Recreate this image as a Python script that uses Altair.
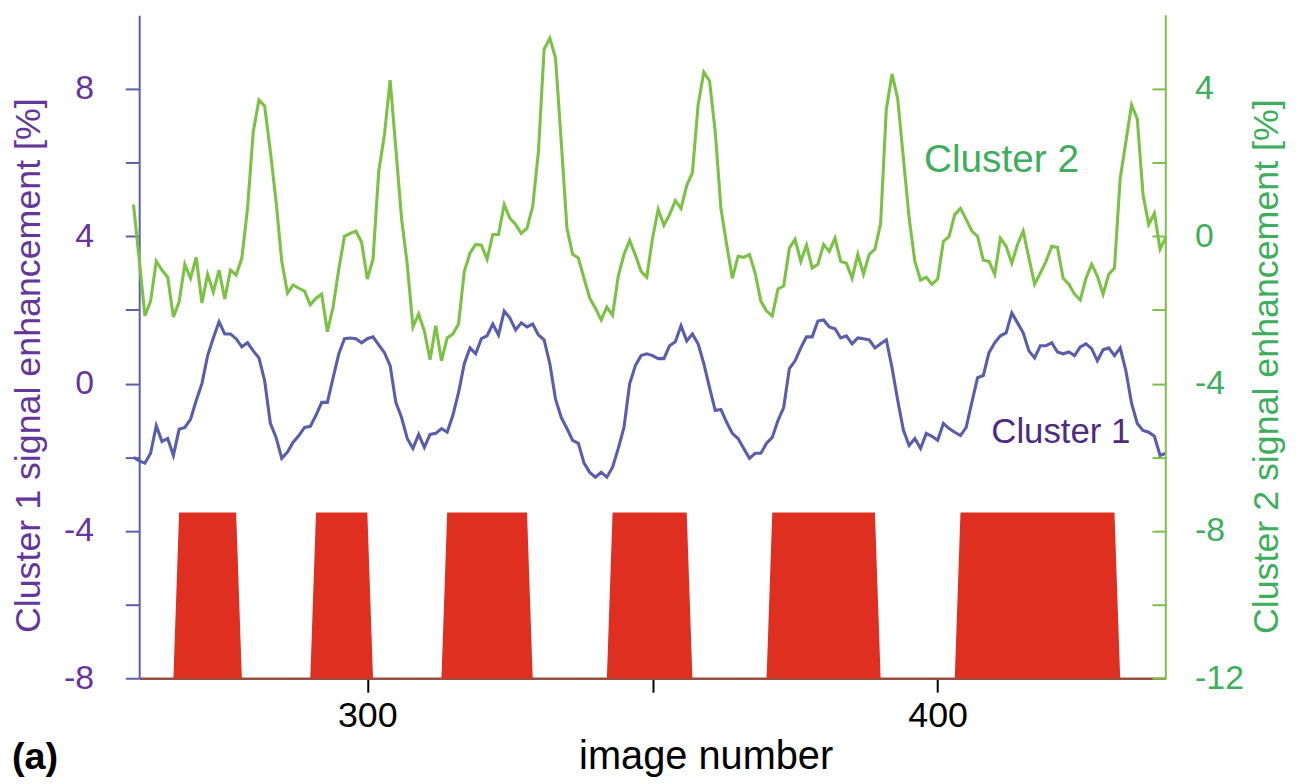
import altair as alt
import pandas as pd

# ---------------- data ----------------
image_number = list(range(259, 441))

cluster1 = [
    -2.00, -2.10, -2.16, -1.89, -1.14, -1.57, -1.49, -1.95, -1.24, -1.19,
    -0.97, -0.46, 0.00, 0.76, 1.24, 1.68, 1.35, 1.35, 1.22, 1.00,
    1.11, 0.89, 0.70, 0.08, -1.08, -1.46, -2.03, -1.86, -1.59, -1.41,
    -1.19, -1.16, -0.86, -0.51, -0.51, 0.16, 0.81, 1.22, 1.24, 1.22,
    1.11, 1.22, 1.27, 1.05, 0.84, 0.49, -0.51, -0.92, -1.49, -1.76,
    -1.38, -1.73, -1.38, -1.35, -1.22, -1.32, -0.86, -0.24, 0.54, 0.97,
    0.81, 1.22, 1.30, 1.62, 1.32, 1.97, 1.78, 1.46, 1.65, 1.54,
    1.62, 1.32, 1.19, 0.54, -0.42, -0.92, -1.22, -1.54, -1.62, -2.16,
    -2.41, -2.54, -2.41, -2.54, -2.27, -1.76, -1.19, 0.00, 0.49, 0.76,
    0.81, 0.76, 0.68, 0.68, 1.03, 1.14, 1.57, 1.16, 1.35, 1.08,
    0.54, -0.11, -0.73, -0.70, -1.05, -1.35, -1.49, -1.76, -2.03, -1.89,
    -1.89, -1.62, -1.46, -1.00, -0.65, 0.41, 0.62, 0.97, 1.27, 1.27,
    1.70, 1.73, 1.54, 1.49, 1.24, 1.30, 1.08, 1.24, 1.22, 1.19,
    0.97, 1.08, 1.19, 0.43, -0.46, -1.27, -1.68, -1.49, -1.76, -1.35,
    -1.43, -1.54, -1.08, -1.22, -1.32, -1.41, -1.19, -0.50, 0.16, 0.22,
    0.84, 1.11, 1.30, 1.38, 1.92, 1.65, 1.38, 0.89, 0.70, 1.03,
    1.03, 1.11, 0.86, 0.81, 0.86, 0.76, 1.00, 1.08, 0.95, 0.62,
    0.92, 0.97, 0.76, 0.97, 0.35, -0.54, -1.08, -1.27, -1.32, -1.43,
    -1.95, -1.89,
]

cluster2 = [
    0.86, -0.62, -2.16, -1.76, -0.68, -0.92, -1.11, -2.19, -1.78, -0.76,
    -1.14, -0.57, -1.81, -1.03, -1.51, -0.92, -1.70, -0.92, -1.05, -0.59,
    0.76, 2.84, 3.70, 3.54, 2.30, 0.95, -0.68, -1.54, -1.32, -1.41,
    -1.49, -1.86, -1.68, -1.57, -2.59, -1.92, -0.89, 0.00, 0.08, 0.14,
    -0.16, -1.16, -0.62, 1.76, 2.76, 4.24, 2.38, 0.49, -0.76, -2.46,
    -2.11, -2.57, -3.35, -2.43, -3.38, -2.76, -2.65, -2.38, -0.95, -0.46,
    -0.22, -0.24, -0.62, 0.05, 0.05, 0.86, 0.49, 0.32, 0.08, 0.22,
    0.81, 2.30, 5.08, 5.38, 4.84, 2.57, 0.22, -0.49, -0.59, -1.14,
    -1.68, -1.95, -2.27, -1.92, -2.14, -1.08, -0.49, -0.11, -0.51, -0.95,
    -1.11, -0.05, 0.73, 0.30, 0.59, 0.97, 0.76, 1.38, 1.73, 3.57,
    4.46, 4.22, 2.84, 0.76, -0.22, -1.14, -0.54, -0.57, -0.49, -1.00,
    -1.76, -2.03, -2.16, -1.43, -1.35, -0.32, -0.08, -0.68, -0.24, -0.86,
    -0.76, -0.22, -0.41, -0.05, -0.68, -0.73, -1.14, -0.49, -1.03, -0.49,
    -0.35, 0.35, 3.46, 4.41, 3.73, 2.11, 0.49, -0.68, -1.19, -1.11,
    -1.30, -1.16, -0.14, 0.00, 0.59, 0.76, 0.46, 0.14, 0.00, -0.65,
    -0.68, -1.03, -0.05, -0.27, -0.73, -0.22, 0.14, -0.59, -1.30, -1.00,
    -0.68, -0.27, -0.30, -1.14, -1.30, -1.57, -1.73, -1.14, -0.76, -1.08,
    -1.57, -1.03, -0.86, 1.57, 2.57, 3.57, 3.19, 1.14, 0.32, 0.62,
    -0.35, -0.03,
]

# stimulus blocks (image numbers where the block is fully "on")
stim_on = [267, 291, 314, 343, 371, 404]
stim_off = [277, 300, 328, 356, 389, 431]
stim_low = -8.0
stim_high = -3.5
stim_range = [260, 440]

x_ticks = [300, 350, 400]
left_ticks = [-8, -6, -4, -2, 0, 2, 4, 6, 8]
right_ticks = [-12, -10, -8, -6, -4, -2, 0, 2, 4]
left_domain = [-8, 10]
right_domain = [-12, 6]
x_domain = [260, 440]

label1 = ["Cluster 1"]
label1_pos = [409.4, -1.32]
label2 = ["Cluster 2"]
label2_pos = [397.6, 2.08]

assert len(cluster1) == len(image_number) == len(cluster2)

# ---------------- styling ----------------
W, H = 1033, 667
FONT = "Liberation Sans"
BLUE = "#5A5DAB"
PURPLE = "#64369A"
PURPLE_DARK = "#4B2B84"
GREEN = "#7BC143"
GREEN_TXT = "#3DAE5C"
RED = "#DE2F20"
BROWN = "#96503F"

df1 = pd.DataFrame({"n": image_number, "v": cluster1})
df2 = pd.DataFrame({"n": image_number, "v": cluster2})
stim_n = list(range(stim_range[0], stim_range[1] + 1))
stim_v = [stim_high if any(a <= n <= b for a, b in zip(stim_on, stim_off)) else stim_low
          for n in stim_n]
dfs = pd.DataFrame({"n": stim_n, "v": stim_v})

x_enc = alt.X(
    "n:Q",
    scale=alt.Scale(domain=x_domain, nice=False, zero=False),
    axis=alt.Axis(
        values=x_ticks,
        labelExpr="datum.value == 350 ? '' : '' + datum.value",
        grid=False,
        domainColor=BROWN, domainWidth=2.5,
        tickColor="black", tickWidth=2, tickSize=14,
        labelColor="black", labelFontSize=36, labelFont=FONT, labelPadding=7,
        labelOverlap=False,
        title="image number", titleColor="black", titleFontSize=40,
        titleFontWeight="normal", titleFont=FONT,
        titleX=570, titleY=91, titleBaseline="alphabetic", titleAlign="center",
    ),
)

left_axis = alt.Axis(
    orient="left",
    values=left_ticks,
    labelExpr="datum.value % 4 == 0 ? '' + datum.value : ''",
    grid=False,
    domainColor=BLUE, domainWidth=2,
    tickColor=BLUE, tickWidth=2, tickSize=14,
    labelColor=PURPLE, labelFontSize=34, labelFont=FONT, labelPadding=32,
    labelOverlap=False,
    title="Cluster 1 signal enhancement [%]", titleColor=PURPLE, titleFontSize=36,
    titleFontWeight="normal", titleFont=FONT,
    titleAngle=270, titleBaseline="bottom", titleAlign="center",
    titleX=-92, titleY=352,
)

right_axis = alt.Axis(
    orient="right",
    values=right_ticks,
    labelExpr="datum.value % 4 == 0 ? '' + datum.value : ''",
    grid=False,
    domain=False, offset=-14,
    tickColor=GREEN, tickWidth=2, tickSize=14,
    labelColor=GREEN_TXT, labelFontSize=34, labelFont=FONT, labelPadding=29,
    labelAlign="left", labelOverlap=False,
    title="Cluster 2 signal enhancement [%]", titleColor=GREEN_TXT, titleFontSize=36,
    titleFontWeight="normal", titleFont=FONT,
    titleAngle=270, titleBaseline="bottom", titleAlign="center",
    titleX=134, titleY=353,
)

y_left = alt.Y("v:Q", scale=alt.Scale(domain=left_domain, nice=False, zero=False), axis=left_axis)
y_right = alt.Y("v:Q", scale=alt.Scale(domain=right_domain, nice=False, zero=False), axis=right_axis)

stim_area = alt.Chart(dfs).mark_area(color=RED, opacity=1).encode(
    x=x_enc, y=y_left, y2=alt.datum(stim_low)
)
line1 = alt.Chart(df1).mark_line(color=BLUE, strokeWidth=3.1, clip=False).encode(x=x_enc, y=y_left)
text1 = alt.Chart(pd.DataFrame({"n": [label1_pos[0]], "v": [label1_pos[1]], "t": label1})).mark_text(
    align="left", baseline="middle", fontSize=35, font=FONT, color=PURPLE_DARK
).encode(x=x_enc, y=y_left, text="t:N")
panel_tag = alt.Chart(pd.DataFrame({"t": ["(a)"]})).mark_text(
    align="left", baseline="alphabetic", fontSize=38, font=FONT, fontWeight="bold", color="black"
).encode(x=alt.value(-128), y=alt.value(758), text="t:N")

line2 = alt.Chart(df2).mark_line(color=GREEN, strokeWidth=3.1, clip=False).encode(x=x_enc, y=y_right)
text2 = alt.Chart(pd.DataFrame({"n": [label2_pos[0]], "v": [label2_pos[1]], "t": label2})).mark_text(
    align="left", baseline="middle", fontSize=39, font=FONT, color=GREEN_TXT
).encode(x=x_enc, y=y_right, text="t:N")
right_line = alt.Chart(pd.DataFrame({"a": [0]})).mark_rule(color=GREEN, strokeWidth=2).encode(
    x=alt.value(W), y=alt.value(0), y2=alt.value(H)
)

left_group = alt.layer(stim_area, line1, text1, panel_tag)
right_group = alt.layer(line2, text2, right_line)

chart = alt.layer(left_group, right_group).resolve_scale(y="independent").properties(
    width=W, height=H,
    autosize=alt.AutoSizeParams(type="none"),
    padding={"left": 132, "top": 5, "right": 130, "bottom": 104},
    background="white",
).configure_view(stroke=None)

chart.save("out.html", embed_options={"renderer": "svg", "actions": False})
